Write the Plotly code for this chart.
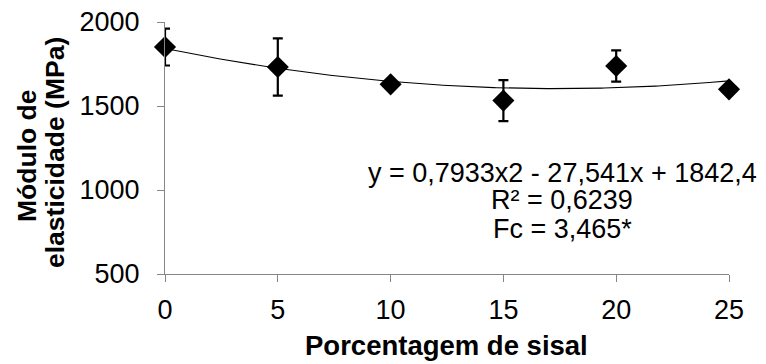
import numpy as np
import plotly.graph_objects as go

# Data
sisal_pct = [0, 5, 10, 15, 20, 25]
modulo_mpa = [1851, 1732, 1629, 1532, 1738, 1599]
erro_mpa = [110, 170, 18, 122, 93, 0]

# Displayed quadratic trendline: y = 0,7933x2 - 27,541x + 1842,4
trend_coefs = [0.7933, -27.541, 1842.4]
x_ticks = [0, 5, 10, 15, 20, 25]
y_ticks = [500, 1000, 1500, 2000]

eq_lines = ["y = 0,7933x2 - 27,541x + 1842,4", "R² = 0,6239", "Fc = 3,465*"]

FONT = "Liberation Sans, Arial, sans-serif"
AXCOL = "#868686"

OFF = 8  # default page body margin
# target plot area in page pixels: x 165..729, y 22..274
W, H = 766 - OFF, 364 - OFF
L, T = 165 - OFF, 22 - OFF
R = W - (729 - OFF)
B = H - (274 - OFF)
pw, ph = W - L - R, H - T - B


def px2paper(px, py):
    """page pixel -> paper coords"""
    px -= OFF
    py -= OFF
    return (px - L) / pw, (H - B - py) / ph


xs = np.linspace(min(sisal_pct), max(sisal_pct), 200)
ys = np.polyval(trend_coefs, xs)

fig = go.Figure()
fig.add_trace(go.Scatter(
    x=xs, y=ys, mode="lines",
    line=dict(color="black", width=1.1),
    hoverinfo="skip", cliponaxis=False,
))
fig.add_trace(go.Scatter(
    x=sisal_pct, y=modulo_mpa, mode="markers",
    marker=dict(symbol="diamond", size=17, color="black"),
    error_y=dict(type="data", array=erro_mpa, visible=True,
                 color="black", thickness=2.2, width=5),
    cliponaxis=False,
))

ann = []
eq_px = [(562, 172.5), (562, 200.5), (562, 228.5)]
for t, (ex, ey) in zip(eq_lines, eq_px):
    ax_, ay_ = px2paper(ex, ey)
    ann.append(dict(text=t, x=ax_, y=ay_, xref="paper", yref="paper",
                    xanchor="center", yanchor="middle", showarrow=False,
                    font=dict(family=FONT, size=27, color="black")))

# y-axis title (two rotated lines)
for t, (tx, ty) in [("<b>Módulo de</b>", (27, 156)),
                    ("<b>elasticidade (MPa)</b>", (55, 153))]:
    ax_, ay_ = px2paper(tx, ty)
    ann.append(dict(text=t, x=ax_, y=ay_, xref="paper", yref="paper",
                    xanchor="center", yanchor="middle", showarrow=False,
                    textangle=-90,
                    font=dict(family=FONT, size=26.5, color="black")))

# x-axis title
ax_, ay_ = px2paper(446, 346)
ann.append(dict(text="<b>Porcentagem de sisal</b>", x=ax_, y=ay_,
                xref="paper", yref="paper", xanchor="center", yanchor="middle",
                showarrow=False, font=dict(family=FONT, size=27.5, color="black")))

fig.update_layout(
    width=W, height=H,
    margin=dict(l=L, r=R, t=T, b=B, pad=0),
    paper_bgcolor="white", plot_bgcolor="white",
    showlegend=False,
    font=dict(family=FONT, size=27, color="black"),
    annotations=ann,
    xaxis=dict(
        range=[0, 25], tickvals=x_ticks, showgrid=False, zeroline=False,
        showline=True, linecolor=AXCOL, linewidth=1,
        ticks="outside", ticklen=7, tickcolor=AXCOL, tickwidth=1,
        tickfont=dict(family=FONT, size=27, color="black"),
        ticklabelstandoff=5, automargin=False, ticklabeloverflow="allow",
    ),
    yaxis=dict(
        range=[500, 2000], tickvals=y_ticks, showgrid=False, zeroline=False,
        showline=True, linecolor=AXCOL, linewidth=1,
        ticks="outside", ticklen=7, tickcolor=AXCOL, tickwidth=1,
        tickfont=dict(family=FONT, size=27, color="black"),
        ticklabelstandoff=12, automargin=False, ticklabeloverflow="allow",
    ),
)

fig.write_html("out.html")
